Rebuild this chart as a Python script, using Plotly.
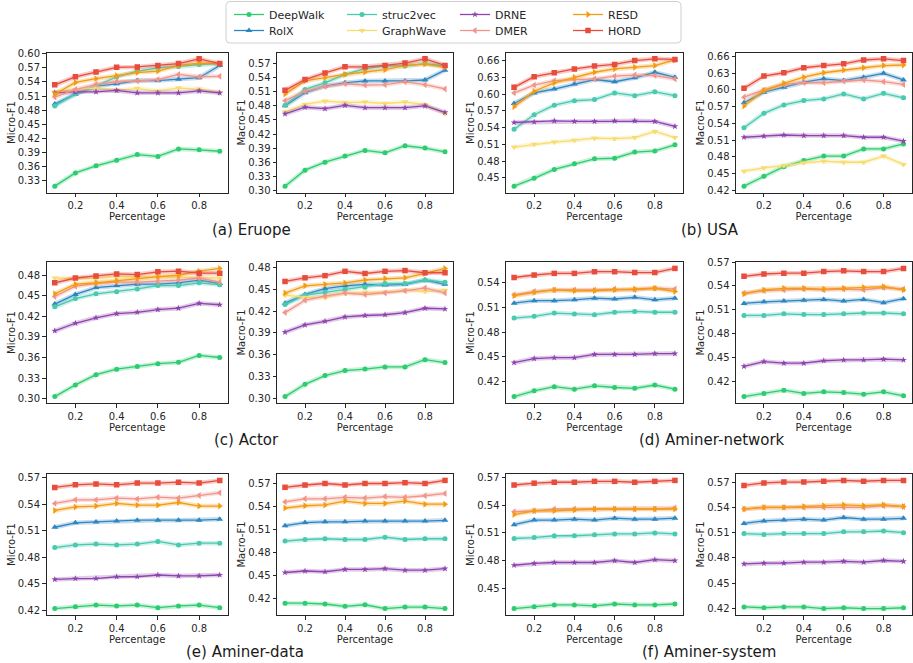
import plotly.graph_objects as go

# ---------------- data ----------------
pct = [0.1, 0.2, 0.3, 0.4, 0.5, 0.6, 0.7, 0.8, 0.9]
x_tick_vals = [0.2, 0.4, 0.6, 0.8]
x_tick_text = ["0.2", "0.4", "0.6", "0.8"]

europe_micro = {
    "DeepWalk": [0.319, 0.347, 0.362, 0.374, 0.386, 0.382, 0.398, 0.396, 0.393],
    "RolX": [0.493, 0.514, 0.531, 0.536, 0.543, 0.543, 0.546, 0.549, 0.575],
    "struc2vec": [0.489, 0.515, 0.531, 0.551, 0.563, 0.570, 0.573, 0.577, 0.579],
    "GraphWave": [0.519, 0.524, 0.527, 0.522, 0.526, 0.521, 0.527, 0.525, 0.517],
    "DRNE": [0.517, 0.519, 0.519, 0.522, 0.517, 0.517, 0.517, 0.521, 0.517],
    "DMER": [0.508, 0.524, 0.535, 0.541, 0.542, 0.545, 0.556, 0.551, 0.552],
    "RESD": [0.514, 0.539, 0.547, 0.553, 0.560, 0.563, 0.575, 0.580, 0.579],
    "HORD": [0.534, 0.551, 0.561, 0.571, 0.572, 0.575, 0.579, 0.589, 0.579],
}
europe_macro = {
    "DeepWalk": [0.309, 0.343, 0.360, 0.373, 0.385, 0.380, 0.395, 0.390, 0.382],
    "RolX": [0.480, 0.508, 0.522, 0.529, 0.533, 0.533, 0.533, 0.535, 0.556],
    "struc2vec": [0.481, 0.515, 0.529, 0.547, 0.559, 0.565, 0.565, 0.570, 0.565],
    "GraphWave": [0.467, 0.483, 0.490, 0.487, 0.488, 0.485, 0.488, 0.483, 0.463],
    "DRNE": [0.463, 0.477, 0.474, 0.481, 0.476, 0.476, 0.476, 0.480, 0.466],
    "DMER": [0.491, 0.511, 0.521, 0.527, 0.524, 0.525, 0.531, 0.525, 0.516],
    "RESD": [0.505, 0.533, 0.540, 0.547, 0.552, 0.557, 0.566, 0.569, 0.562],
    "HORD": [0.513, 0.536, 0.550, 0.563, 0.563, 0.566, 0.571, 0.580, 0.566],
}
usa_micro = {
    "DeepWalk": [0.435, 0.449, 0.465, 0.475, 0.484, 0.485, 0.496, 0.498, 0.509],
    "RolX": [0.583, 0.602, 0.609, 0.618, 0.626, 0.622, 0.629, 0.639, 0.630],
    "struc2vec": [0.537, 0.563, 0.580, 0.588, 0.590, 0.602, 0.597, 0.604, 0.597],
    "GraphWave": [0.505, 0.510, 0.514, 0.517, 0.521, 0.520, 0.522, 0.533, 0.522],
    "DRNE": [0.549, 0.550, 0.552, 0.551, 0.551, 0.552, 0.552, 0.551, 0.542],
    "DMER": [0.602, 0.616, 0.624, 0.626, 0.627, 0.632, 0.634, 0.633, 0.627],
    "RESD": [0.577, 0.605, 0.620, 0.630, 0.639, 0.645, 0.648, 0.651, 0.661],
    "HORD": [0.612, 0.631, 0.638, 0.645, 0.650, 0.653, 0.660, 0.663, 0.662],
}
usa_macro = {
    "DeepWalk": [0.427, 0.445, 0.462, 0.473, 0.481, 0.481, 0.494, 0.494, 0.503],
    "RolX": [0.577, 0.596, 0.605, 0.614, 0.620, 0.617, 0.623, 0.630, 0.618],
    "struc2vec": [0.532, 0.558, 0.573, 0.581, 0.584, 0.593, 0.584, 0.594, 0.586],
    "GraphWave": [0.454, 0.460, 0.464, 0.469, 0.472, 0.470, 0.470, 0.481, 0.466],
    "DRNE": [0.515, 0.517, 0.519, 0.518, 0.518, 0.518, 0.515, 0.515, 0.508],
    "DMER": [0.587, 0.600, 0.610, 0.613, 0.613, 0.616, 0.618, 0.615, 0.610],
    "RESD": [0.571, 0.599, 0.612, 0.623, 0.631, 0.636, 0.640, 0.644, 0.645],
    "HORD": [0.603, 0.625, 0.631, 0.640, 0.644, 0.647, 0.654, 0.656, 0.653],
}
actor_micro = {
    "DeepWalk": [0.303, 0.320, 0.335, 0.343, 0.347, 0.351, 0.353, 0.363, 0.360],
    "RolX": [0.438, 0.452, 0.462, 0.465, 0.467, 0.467, 0.469, 0.473, 0.468],
    "struc2vec": [0.434, 0.446, 0.453, 0.456, 0.460, 0.465, 0.465, 0.469, 0.466],
    "GraphWave": [0.476, 0.476, 0.475, 0.478, 0.478, 0.477, 0.477, 0.477, 0.476],
    "DRNE": [0.399, 0.410, 0.418, 0.424, 0.426, 0.430, 0.432, 0.439, 0.437],
    "DMER": [0.449, 0.464, 0.468, 0.470, 0.470, 0.471, 0.473, 0.476, 0.470],
    "RESD": [0.453, 0.467, 0.469, 0.472, 0.476, 0.478, 0.480, 0.486, 0.490],
    "HORD": [0.469, 0.476, 0.479, 0.482, 0.481, 0.485, 0.486, 0.483, 0.483],
}
actor_macro = {
    "DeepWalk": [0.302, 0.319, 0.331, 0.338, 0.340, 0.343, 0.343, 0.353, 0.349],
    "RolX": [0.431, 0.443, 0.451, 0.455, 0.457, 0.456, 0.457, 0.463, 0.457],
    "struc2vec": [0.429, 0.442, 0.446, 0.450, 0.453, 0.458, 0.458, 0.463, 0.460],
    "GraphWave": [0.442, 0.439, 0.439, 0.445, 0.446, 0.446, 0.449, 0.447, 0.449],
    "DRNE": [0.391, 0.401, 0.406, 0.412, 0.414, 0.415, 0.418, 0.424, 0.423],
    "DMER": [0.418, 0.435, 0.441, 0.445, 0.443, 0.445, 0.448, 0.452, 0.445],
    "RESD": [0.445, 0.455, 0.457, 0.459, 0.463, 0.465, 0.466, 0.472, 0.479],
    "HORD": [0.461, 0.466, 0.469, 0.475, 0.472, 0.475, 0.476, 0.473, 0.473],
}
network_micro = {
    "DeepWalk": [0.402, 0.409, 0.414, 0.411, 0.415, 0.413, 0.412, 0.416, 0.411],
    "RolX": [0.515, 0.518, 0.518, 0.519, 0.521, 0.520, 0.522, 0.519, 0.521],
    "struc2vec": [0.497, 0.499, 0.503, 0.502, 0.501, 0.504, 0.505, 0.504, 0.504],
    "DRNE": [0.443, 0.448, 0.449, 0.449, 0.453, 0.453, 0.453, 0.454, 0.454],
    "DMER": [0.525, 0.529, 0.531, 0.531, 0.531, 0.532, 0.531, 0.533, 0.532],
    "RESD": [0.524, 0.528, 0.531, 0.530, 0.530, 0.531, 0.532, 0.533, 0.529],
    "HORD": [0.546, 0.549, 0.551, 0.551, 0.553, 0.553, 0.552, 0.552, 0.557],
}
network_macro = {
    "DeepWalk": [0.401, 0.405, 0.409, 0.405, 0.407, 0.406, 0.404, 0.407, 0.402],
    "RolX": [0.518, 0.520, 0.521, 0.522, 0.523, 0.521, 0.523, 0.519, 0.524],
    "struc2vec": [0.503, 0.503, 0.505, 0.504, 0.504, 0.505, 0.506, 0.506, 0.505],
    "DRNE": [0.439, 0.445, 0.443, 0.443, 0.446, 0.447, 0.447, 0.448, 0.447],
    "DMER": [0.531, 0.534, 0.535, 0.536, 0.535, 0.536, 0.535, 0.538, 0.536],
    "RESD": [0.530, 0.535, 0.537, 0.537, 0.536, 0.537, 0.538, 0.539, 0.535],
    "HORD": [0.552, 0.555, 0.556, 0.556, 0.558, 0.559, 0.558, 0.558, 0.562],
}
data_micro = {
    "DeepWalk": [0.422, 0.424, 0.426, 0.425, 0.426, 0.423, 0.425, 0.426, 0.423],
    "RolX": [0.514, 0.519, 0.520, 0.521, 0.522, 0.522, 0.522, 0.522, 0.523],
    "struc2vec": [0.491, 0.494, 0.495, 0.494, 0.495, 0.498, 0.494, 0.496, 0.496],
    "DRNE": [0.455, 0.456, 0.456, 0.458, 0.458, 0.460, 0.459, 0.459, 0.460],
    "DMER": [0.541, 0.545, 0.545, 0.547, 0.546, 0.548, 0.547, 0.550, 0.553],
    "RESD": [0.533, 0.537, 0.538, 0.541, 0.539, 0.539, 0.542, 0.538, 0.538],
    "HORD": [0.559, 0.562, 0.563, 0.562, 0.564, 0.564, 0.565, 0.564, 0.567],
}
data_macro = {
    "DeepWalk": [0.414, 0.414, 0.413, 0.410, 0.412, 0.407, 0.409, 0.409, 0.407],
    "RolX": [0.515, 0.519, 0.520, 0.520, 0.521, 0.521, 0.521, 0.521, 0.522],
    "struc2vec": [0.495, 0.497, 0.498, 0.497, 0.497, 0.500, 0.497, 0.498, 0.498],
    "DRNE": [0.454, 0.456, 0.455, 0.458, 0.458, 0.459, 0.457, 0.457, 0.459],
    "DMER": [0.546, 0.550, 0.550, 0.552, 0.551, 0.553, 0.552, 0.554, 0.557],
    "RESD": [0.538, 0.541, 0.542, 0.547, 0.544, 0.544, 0.547, 0.543, 0.543],
    "HORD": [0.565, 0.568, 0.570, 0.568, 0.570, 0.570, 0.571, 0.570, 0.574],
}
system_micro = {
    "DeepWalk": [0.428, 0.430, 0.432, 0.432, 0.431, 0.433, 0.432, 0.432, 0.433],
    "RolX": [0.519, 0.524, 0.524, 0.525, 0.524, 0.526, 0.525, 0.525, 0.526],
    "struc2vec": [0.504, 0.505, 0.507, 0.507, 0.508, 0.509, 0.509, 0.510, 0.509],
    "DRNE": [0.475, 0.477, 0.478, 0.478, 0.478, 0.480, 0.478, 0.481, 0.480],
    "DMER": [0.533, 0.534, 0.536, 0.536, 0.536, 0.536, 0.536, 0.536, 0.537],
    "RESD": [0.530, 0.534, 0.534, 0.535, 0.536, 0.536, 0.536, 0.536, 0.536],
    "HORD": [0.562, 0.564, 0.565, 0.565, 0.566, 0.566, 0.565, 0.566, 0.567],
}
system_macro = {
    "DeepWalk": [0.422, 0.421, 0.422, 0.422, 0.420, 0.421, 0.420, 0.420, 0.421],
    "RolX": [0.521, 0.524, 0.525, 0.526, 0.525, 0.528, 0.526, 0.526, 0.527],
    "struc2vec": [0.509, 0.508, 0.509, 0.509, 0.509, 0.511, 0.511, 0.512, 0.510],
    "DRNE": [0.473, 0.474, 0.474, 0.475, 0.475, 0.476, 0.475, 0.477, 0.476],
    "DMER": [0.538, 0.540, 0.540, 0.540, 0.540, 0.540, 0.540, 0.542, 0.541],
    "RESD": [0.538, 0.540, 0.540, 0.541, 0.542, 0.543, 0.542, 0.543, 0.541],
    "HORD": [0.566, 0.569, 0.570, 0.570, 0.571, 0.572, 0.571, 0.572, 0.572],
}

methods = ["DeepWalk", "RolX", "struc2vec", "GraphWave", "DRNE", "DMER", "RESD", "HORD"]
captions = ["(a) Eruope", "(b) USA", "(c) Actor", "(d) Aminer-network", "(e) Aminer-data", "(f) Aminer-system"]

# ---------------- styles ----------------
colors = {
    "DeepWalk": "#2ecc71", "RolX": "#2e86c1", "struc2vec": "#48c9b0", "GraphWave": "#f7dc6f",
    "DRNE": "#8e44ad", "DMER": "#f1948a", "RESD": "#f39c12", "HORD": "#e74c3c",
}
symbols = {
    "DeepWalk": "circle", "RolX": "triangle-up", "struc2vec": "circle", "GraphWave": "triangle-down",
    "DRNE": "star", "DMER": "triangle-left", "RESD": "triangle-right", "HORD": "square",
}
msize = {"DeepWalk": 5, "RolX": 6, "struc2vec": 5, "GraphWave": 6,
         "DRNE": 5, "DMER": 6, "RESD": 6, "HORD": 5.5}
legend_of = {"DeepWalk": "legend", "struc2vec": "legend", "DRNE": "legend", "RESD": "legend",
             "RolX": "legend2", "GraphWave": "legend2", "DMER": "legend2", "HORD": "legend2"}
rank_of = {"DeepWalk": 1, "struc2vec": 2, "DRNE": 3, "RESD": 4,
           "RolX": 1, "GraphWave": 2, "DMER": 3, "HORD": 4}


def rgba(hexc, a):
    h = hexc.lstrip("#")
    return "rgba(%d,%d,%d,%.2f)" % (int(h[0:2], 16), int(h[2:4], 16), int(h[4:6], 16), a)


panels = [
    (europe_micro, "Micro-F1"), (europe_macro, "Macro-F1"), (usa_micro, "Micro-F1"), (usa_macro, "Macro-F1"),
    (actor_micro, "Micro-F1"), (actor_macro, "Macro-F1"), (network_micro, "Micro-F1"), (network_macro, "Macro-F1"),
    (data_micro, "Micro-F1"), (data_macro, "Macro-F1"), (system_micro, "Micro-F1"), (system_macro, "Macro-F1"),
]

W, H = 913, 663
col_px = [(46.5, 228), (277, 453), (506, 683), (736, 911.5)]
row_px = [(52.5, 192.5), (262, 403), (474, 615)]
caption_px = [(251, 230), (710, 230), (246, 440), (712, 440), (245, 652), (709, 652)]

FONT = "DejaVu Sans"
INK = "#262626"

fig = go.Figure()
layout = {}
legend_shown = set()

for i, (panel, ytitle) in enumerate(panels):
    r, c = divmod(i, 4)
    n = i + 1
    xa = "x" if n == 1 else "x%d" % n
    ya = "y" if n == 1 else "y%d" % n
    xkey = "xaxis" if n == 1 else "xaxis%d" % n
    ykey = "yaxis" if n == 1 else "yaxis%d" % n

    allv = [v for m in panel for v in panel[m]]
    lo, hi = min(allv), max(allv)
    pad = (hi - lo) * 0.05

    for m in methods:
        if m not in panel:
            continue
        vals = panel[m]
        # soft halo (like a seaborn confidence band)
        fig.add_trace(go.Scatter(
            x=pct, y=vals, xaxis=xa, yaxis=ya, mode="lines",
            line=dict(color=rgba(colors[m], 0.28), width=4.5),
            showlegend=False, hoverinfo="skip"))
        show = m not in legend_shown
        legend_shown.add(m)
        fig.add_trace(go.Scatter(
            x=pct, y=vals, xaxis=xa, yaxis=ya, mode="lines+markers", name=m,
            line=dict(color=colors[m], width=1.3),
            marker=dict(symbol=symbols[m], size=msize[m], color=colors[m],
                        line=dict(width=0)),
            showlegend=show, legend=legend_of[m], legendrank=rank_of[m]))

    x0, x1 = col_px[c]
    y0, y1 = row_px[r]
    axis_common = dict(
        showline=True, mirror=True, linecolor=INK, linewidth=1,
        ticks="outside", ticklen=3.5, tickwidth=0.8, tickcolor=INK,
        showgrid=False, zeroline=False,
        tickfont=dict(family=FONT, size=10, color=INK),
    )
    layout[xkey] = dict(
        axis_common, domain=[x0 / W, x1 / W], anchor=ya,
        range=[0.06, 0.94], tickvals=x_tick_vals, ticktext=x_tick_text,
        title=dict(text="Percentage", font=dict(family=FONT, size=10, color=INK), standoff=0),
    )
    layout[ykey] = dict(
        axis_common, domain=[1 - y1 / H, 1 - y0 / H], anchor=xa,
        range=[lo - pad, hi + pad], tick0=0, dtick=0.03, tickformat=".2f",
        title=dict(text=ytitle, font=dict(family=FONT, size=10, color=INK), standoff=0),
    )

annotations = []
for text, (cx, cy) in zip(captions, caption_px):
    annotations.append(dict(
        text=text, x=cx / W, y=1 - cy / H, xref="paper", yref="paper",
        xanchor="center", yanchor="middle", showarrow=False,
        font=dict(family=FONT, size=15, color="#1a1a1a")))

# rounded legend frame
bx0, bx1, by0, by1, rad = 226, 681, 1.5, 43, 4
def px(xp):
    return xp / W
def py(yp):
    return 1 - yp / H
path = (
    f"M {px(bx0 + rad)},{py(by0)} L {px(bx1 - rad)},{py(by0)} "
    f"Q {px(bx1)},{py(by0)} {px(bx1)},{py(by0 + rad)} L {px(bx1)},{py(by1 - rad)} "
    f"Q {px(bx1)},{py(by1)} {px(bx1 - rad)},{py(by1)} L {px(bx0 + rad)},{py(by1)} "
    f"Q {px(bx0)},{py(by1)} {px(bx0)},{py(by1 - rad)} L {px(bx0)},{py(by0 + rad)} "
    f"Q {px(bx0)},{py(by0)} {px(bx0 + rad)},{py(by0)} Z"
)

legend_common = dict(
    orientation="h", xanchor="left", yanchor="top",
    entrywidth=68, entrywidthmode="pixels", itemwidth=30,
    font=dict(family=FONT, size=11, color=INK),
    bgcolor="rgba(0,0,0,0)", traceorder="normal", tracegroupgap=0,
)

fig.update_layout(
    width=W, height=H, autosize=False,
    margin=dict(l=0, r=0, t=0, b=0, autoexpand=False),
    paper_bgcolor="white", plot_bgcolor="white",
    font=dict(family=FONT, color=INK),
    annotations=annotations,
    shapes=[dict(type="path", path=path, xref="paper", yref="paper",
                 line=dict(color="#d0d0d0", width=1), fillcolor="rgba(255,255,255,0)")],
    legend=dict(legend_common, x=229 / W, y=1.0),
    legend2=dict(legend_common, x=229 / W, y=1 - 16 / H),
    **layout,
)

fig.write_html(
    "out.html",
    config={"displayModeBar": False},
    post_script="document.body.style.margin='0';document.body.style.padding='0';"
                "document.documentElement.style.overflow='hidden';",
)
